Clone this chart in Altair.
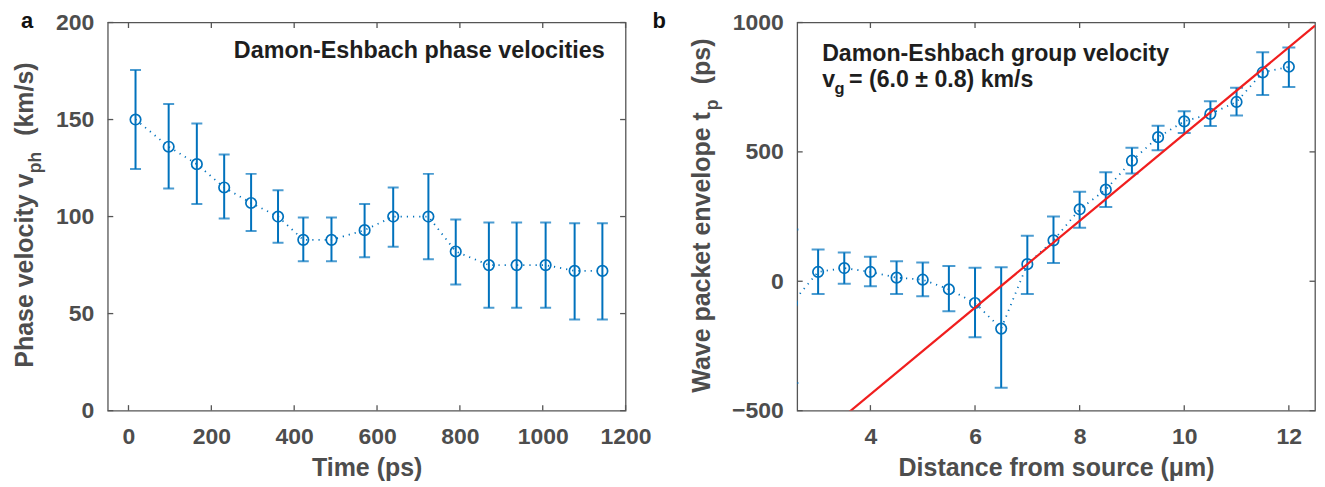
import altair as alt
import pandas as pd

BLUE = "#0072BD"
RED = "#F01E1E"
FRAME = "#555555"
GRAY = "#4D4D4D"
INK = "#1E1E1E"
FONT = "Liberation Sans"
W, H = 519, 389

# ---------------- panel a : phase velocities ----------------
time_ps = [17, 97, 165, 231, 296, 361, 422, 490, 570, 639, 724, 790, 870, 937, 1007, 1077, 1144]
v_ph = [150, 136, 127, 115, 107, 100, 88, 88, 93, 100, 100, 82, 75, 75, 75, 72, 72]
v_ph_hi = [175.5, 158, 148, 132, 122, 113.5, 99.5, 99.5, 106.5, 115, 122, 98.5, 97, 97, 97, 96.5, 96.5]
v_ph_lo = [124.5, 114.5, 106.5, 99, 92.5, 86.5, 77, 77, 79, 84.5, 78, 65, 53, 53, 53, 47, 47]
a_xticks = [0, 200, 400, 600, 800, 1000, 1200]
a_yticks = [0, 50, 100, 150, 200]

# ---------------- panel b : group velocity ----------------
dist_um = [2.5, 3, 3.5, 4, 4.5, 5, 5.5, 6, 6.5, 7, 7.5, 8, 8.5, 9, 9.5, 10, 10.5, 11, 11.5, 12]
t_p = [-85, 36, 51, 36, 14, 6, -31, -84, -183, 66, 158, 278, 354, 466, 557, 618, 647, 693, 807, 829]
t_p_hi = [200, 123, 111, 95, 77, 72, 59, 52, 54, 176, 250, 346, 421, 516, 601, 657, 696, 748, 885, 903]
t_p_lo = [-393, -49, -10, -19, -49, -58, -116, -216, -412, -49, 71, 207, 287, 416, 506, 573, 600, 641, 720, 751]
fit_x = [2.6, 12.5]
fit_t = [-672, 988]
b_xticks = [4, 6, 8, 10, 12]
b_yticks = [-500, 0, 500, 1000]


def text_layer(s, x, y, size=23, color=INK, angle=0, align="left", weight="bold",
               baseline="alphabetic"):
    kw = dict(font=FONT, fontSize=size, fontWeight=weight, color=color,
              align=align, baseline=baseline)
    if angle:
        kw["angle"] = angle
    return alt.Chart(pd.DataFrame({"s": [s]})).mark_text(**kw).encode(
        text="s:N", x=alt.value(x), y=alt.value(y))


def axis(values, title, pad, tpad=7):
    kw = dict(values=values, title=title, grid=False, ticks=False, tickSize=0,
              domain=False, labelPadding=pad, format="d", labelFlush=False,
              labelOverlap=False,
              labelFont=FONT, labelFontSize=23, labelFontWeight="bold", labelColor=GRAY,
              titleFont=FONT, titleFontSize=25, titleFontWeight="bold", titleColor=GRAY)
    if title is not None:
        kw["titlePadding"] = tpad
    return alt.Axis(**kw)


def panel(xs, ys, lo, hi, xdom, ydom, xticks, yticks, xtitle, cap, extra_layers):
    xscale = alt.Scale(domain=xdom, nice=False, zero=False)
    yscale = alt.Scale(domain=ydom, nice=False, zero=False)
    xaxis = axis(xticks, xtitle, 15)
    yaxis = axis(yticks, None, 14)
    X = lambda f: alt.X(f, type="quantitative", scale=xscale, axis=xaxis)
    Y = lambda f: alt.Y(f, type="quantitative", scale=yscale, axis=yaxis)

    df = pd.DataFrame({"x": xs, "y": ys, "lo": lo, "hi": hi})
    line = alt.Chart(df).mark_line(color=BLUE, strokeWidth=1.8, strokeDash=[1.2, 5],
                                   clip=True).encode(x=X("x"), y=Y("y"))
    bars = alt.Chart(df).mark_rule(color=BLUE, strokeWidth=2, clip=True).encode(
        x=X("x"), y=Y("lo"), y2="hi")
    cap_hi = alt.Chart(df).mark_tick(color=BLUE, orient="horizontal", size=cap,
                                     thickness=2, clip=True).encode(x=X("x"), y=Y("hi"))
    cap_lo = alt.Chart(df).mark_tick(color=BLUE, orient="horizontal", size=cap,
                                     thickness=2, clip=True).encode(x=X("x"), y=Y("lo"))
    pts = alt.Chart(df).mark_point(shape="circle", filled=False, color=BLUE, size=110,
                                   strokeWidth=1.7, opacity=1, clip=True).encode(
        x=X("x"), y=Y("y"))

    xt = pd.DataFrame({"x": xticks})
    yt = pd.DataFrame({"y": yticks})
    tk = dict(color=FRAME, strokeWidth=1.3)
    t_bottom = alt.Chart(xt).mark_rule(**tk).encode(x=X("x"), y=alt.value(H), y2=alt.value(H - 5.5))
    t_top = alt.Chart(xt).mark_rule(**tk).encode(x=X("x"), y=alt.value(0), y2=alt.value(5.5))
    t_left = alt.Chart(yt).mark_rule(**tk).encode(y=Y("y"), x=alt.value(0), x2=alt.value(5.5))
    t_right = alt.Chart(yt).mark_rule(**tk).encode(y=Y("y"), x=alt.value(W), x2=alt.value(W - 5.5))

    layers = [t_bottom, t_top, t_left, t_right, line, bars, cap_hi, cap_lo, pts] + extra_layers
    return alt.layer(*layers).properties(width=W, height=H)


# annotations for panel a
a_extra = [
    text_layer("Damon-Eshbach phase velocities", W - 21, 35.5, size=23.4, align="right"),
    text_layer("a", -87, -11.4, size=22, color="#111111", baseline="top"),
    text_layer("Phase velocity v", -75, 346, size=25, color=GRAY, angle=270),
    text_layer("ph", -67, 151, size=17.5, color=GRAY, angle=270),
    text_layer("(km/s)", -75, 40, size=25, color=GRAY, angle=270, align="right"),
]

# fit line for panel b
fit_df = pd.DataFrame({"x": fit_x, "t": fit_t})
b_fit = alt.Chart(fit_df).mark_line(color=RED, strokeWidth=2.2, clip=True).encode(
    x=alt.X("x", type="quantitative", scale=alt.Scale(domain=[2.6, 12.5], nice=False, zero=False)),
    y=alt.Y("t", type="quantitative", scale=alt.Scale(domain=[-500, 1000], nice=False, zero=False)))

b_extra = [
    b_fit,
    text_layer("Damon-Eshbach group velocity", 25, 38.7, size=23.2),
    text_layer("v", 25, 64.7, size=23.2),
    text_layer("g", 37.5, 71.5, size=16.5),
    text_layer("= (6.0 \u00b1 0.8) km/s", 52, 64.7, size=23.2),
    text_layer("b", -145, -11.4, size=22, color="#111111", baseline="top"),
    text_layer("Wave packet envelope t", -87, 371, size=25, color=GRAY, angle=270),
    text_layer("p", -79, 88, size=17.5, color=GRAY, angle=270),
    text_layer("(ps)", -87, 16, size=25, color=GRAY, angle=270, align="right"),
]

pa = panel(time_ps, v_ph, v_ph_lo, v_ph_hi, [-50, 1200], [0, 200], a_xticks, a_yticks,
           "Time (ps)", 11, a_extra)
pb = panel(dist_um, t_p, t_p_lo, t_p_hi, [2.6, 12.5], [-500, 1000], b_xticks, b_yticks,
           "Distance from source (\u03bcm)", 13, b_extra)

chart = alt.hconcat(pa, pb, spacing=172, bounds="flush").properties(
    padding={"left": 4, "top": 0, "right": 0, "bottom": 0}
).configure_view(stroke=FRAME, strokeWidth=1.3)

chart.save("out.html", embed_options={"renderer": "svg", "actions": False})
